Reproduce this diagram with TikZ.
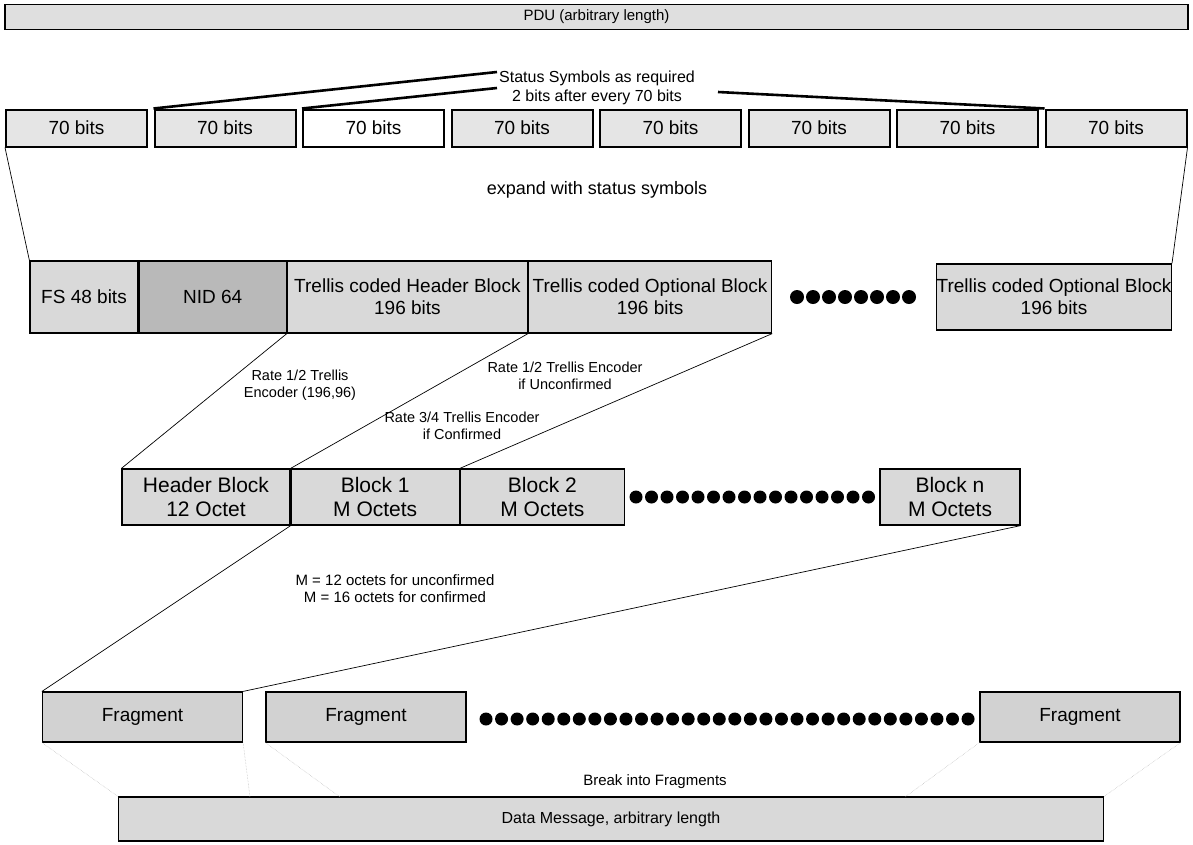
\documentclass[tikz,border=0pt]{standalone}
\usepackage{fontspec}
\setmainfont{Liberation Sans}
\usetikzlibrary{positioning}

\begin{document}
\begin{tikzpicture}[x=1pt, y=-1pt,
  blk/.style = {draw, line width=1.2pt, fill=gray!30, inner sep=0pt, align=center, font=\fontsize{19}{22}\selectfont},
  bitbox/.style = {blk, line width=2pt, minimum width=141pt, minimum height=37pt, font=\fontsize{19}{22}\selectfont},
  rowthree/.style = {blk, minimum height=72pt},
  rowfour/.style = {blk, minimum height=56pt, font=\fontsize{21}{24}\selectfont},
  frag/.style = {blk, fill=gray!35, minimum width=200pt, minimum height=50pt},
  lbl/.style = {align=center, font=\fontsize{14.5}{17}\selectfont},
  thickln/.style = {line width=2.6pt},
  link/.style = {line width=0.7pt},
  faint/.style = {gray!55, densely dotted, line width=0.5pt}]
\useasboundingbox (0,0) rectangle (1193,844);

\node[blk, fill=gray!25, minimum width=1183pt, minimum height=25pt, font=\fontsize{15}{17}\selectfont] (pdu) at (596.5,17) {PDU (arbitrary length)};

\node[align=center, font=\fontsize{16}{18.5}\selectfont] (stat) at (597,88) {Status Symbols as required\\2 bits after every 70 bits};
\foreach \i/\f in {1/gray!20,2/gray!20,3/white,4/gray!20,5/gray!20,6/gray!20,7/gray!20,8/gray!20}
  \node[bitbox, fill=\f] (b\i) at ({76.5+(\i-1)*148.5},128) {70 bits};
\coordinate (s1) at (497,72);
\coordinate (s2) at (497,88);
\coordinate (s3) at (718,92);
\draw[thickln] (b2.north west) -- (s1);
\draw[thickln] (b3.north west) -- (s2);
\draw[thickln] (s3) -- (b8.north west);

\node[font=\fontsize{18}{20}\selectfont] (expand) at (597,190) {expand with status symbols};

\node[rowthree, minimum width=108pt] (fs) at (84,297) {FS 48 bits};
\node[rowthree, fill=gray!55, minimum width=147pt, right=0pt of fs] (nid) {NID 64};
\node[rowthree, minimum width=240pt, right=0pt of nid] (hdr) {Trellis coded Header Block\\196 bits};
\node[rowthree, minimum width=243pt, right=0pt of hdr] (opt) {Trellis coded Optional Block\\196 bits};
\node[rowthree, minimum width=232pt, minimum height=66pt] (optn) at (1054,297) {Trellis coded Optional Block\\196 bits};
\foreach \k in {0,...,7} \fill (797+\k*16,297) circle (7pt);
\draw[link] (b1.south west) -- (fs.north west);
\draw[link] (b8.south east) -- (optn.north east);

\node[rowfour, minimum width=168pt] (hb) at (206,497) {Header Block\\12 Octet};
\node[rowfour, minimum width=168pt, right=0pt of hb] (blk1) {Block 1\\M Octets};
\node[rowfour, minimum width=164pt, right=0pt of blk1] (blk2) {Block 2\\M Octets};
\node[rowfour, minimum width=140pt] (blkn) at (950,497) {Block n\\M Octets};
\foreach \k in {0,...,15} \fill (636+\k*15.5,497) circle (6.5pt);
\draw[link] (hdr.south west) -- (hb.north west);
\draw[link] (opt.south west) -- (blk1.north west);
\draw[link] (opt.south east) -- (blk2.north west);
\node[lbl] (r1) at (300,385) {Rate 1/2 Trellis\\Encoder (196,96)};
\node[lbl] (r2) at (565,376) {Rate 1/2 Trellis Encoder\\if Unconfirmed};
\node[lbl] (r3) at (462,426) {Rate 3/4 Trellis Encoder\\if Confirmed};

\node[lbl, font=\fontsize{15}{17}\selectfont] (mdef) at (395,589) {M = 12 octets for unconfirmed\\M = 16 octets for confirmed};

\node[frag] (f1) at (142.5,717) {Fragment};
\node[frag] (f2) at (366,717) {Fragment};
\node[frag] (f3) at (1080,717) {Fragment};
\foreach \k in {0,...,31} \fill (486+\k*15.55,719) circle (6.5pt);
\draw[link] (blk1.south west) -- (f1.north west);
\draw[link] (blkn.south east) -- (f1.north east);

\node[lbl, font=\fontsize{15}{17}\selectfont] (brk) at (655,782) {Break into Fragments};
\node[blk, fill=gray!30, minimum width=985pt, minimum height=44pt, font=\fontsize{16}{18}\selectfont] (dm) at (611,819) {Data Message, arbitrary length};
\coordinate (d1) at (250,797);
\coordinate (d2) at (340,797);
\coordinate (d3) at (905,797);
\draw[faint] (f1.south west) -- (dm.north west);
\draw[faint] (f1.south east) -- (d1);
\draw[faint] (f2.south west) -- (d2);
\draw[faint] (f3.south west) -- (d3);
\draw[faint] (f3.south east) -- (dm.north east);
\end{tikzpicture}
\end{document}
